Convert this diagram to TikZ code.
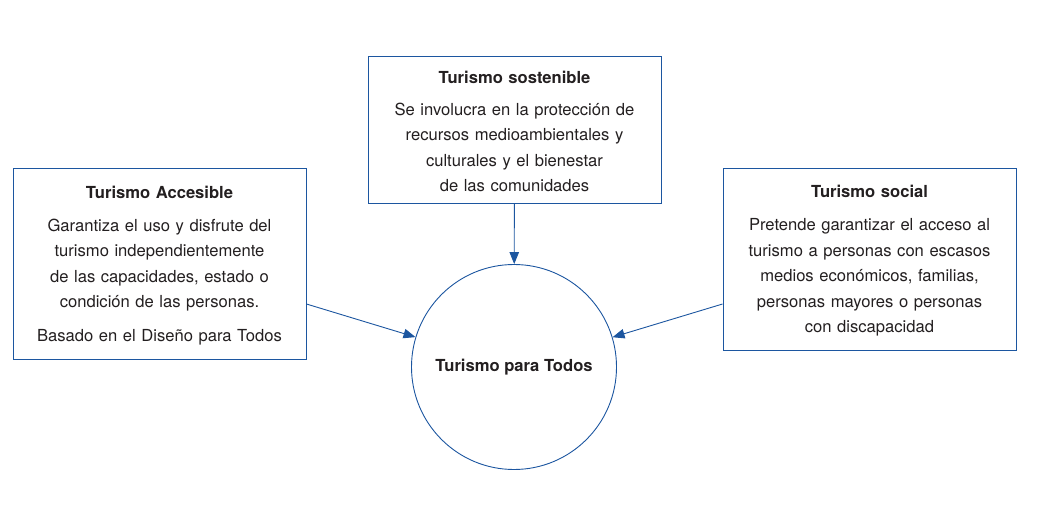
\documentclass[tikz,border=0pt]{standalone}
\usepackage{fontspec}
\setmainfont{TeX Gyre Heros}
\usepackage{xcolor}
\usetikzlibrary{arrows.meta,positioning}

\definecolor{azul}{RGB}{28,86,160}
\definecolor{tinta}{RGB}{35,31,32}
\newcommand{\titulo}[1]{\rule{0pt}{16.5pt}\textbf{#1}}

\tikzset{
    tipo/.style={draw=azul, line width=0.9pt, text=tinta, align=center,
        inner xsep=6.5pt, inner ysep=0pt, text width=280pt,
        font=\fontsize{16.6}{25.5}\selectfont},
    flecha/.style={draw=azul, line width=0.9pt,
        -{Triangle[length=12pt,width=9.5pt]}}
}

\begin{document}
\begin{tikzpicture}[x=1pt,y=-1pt]
    \useasboundingbox (0,0) rectangle (1043,510);
    % los tres tipos de turismo
    \node[tipo, minimum height=191pt] (acc) at (159.5,263.5) {\titulo{Turismo Accesible}\\[7.5pt]
        Garantiza el uso y disfrute del\\ turismo independientemente\\ de las capacidades, estado o\\ condición de las personas.\\[8.5pt]
        Basado en el Diseño para Todos};
    \node[tipo, minimum height=147pt] (sost) at (514.5,129.5) {\titulo{Turismo sostenible}\\[6pt]
        Se involucra en la protección de\\ recursos medioambientales y\\ culturales y el bienestar\\ de las comunidades};
    \node[tipo, minimum height=182pt] (soc) at (869.5,259) {\titulo{Turismo social}\\[7.5pt]
        Pretende garantizar el acceso al\\ turismo a personas con escasos\\ medios económicos, familias,\\ personas mayores o personas\\ con discapacidad};
    % el centro
    \node[circle, draw=azul, line width=0.9pt, minimum size=205pt, inner sep=0pt, text=tinta,
        font=\fontsize{16.6}{20}\selectfont\bfseries] (todos) at (514,367) {Turismo para Todos};
    \draw[flecha] (sost) -- (todos);
    \draw[flecha] ([yshift=-40.5pt]acc.east) -- (todos);
    \draw[flecha] ([yshift=-45pt]soc.west) -- (todos);
\end{tikzpicture}
\end{document}
